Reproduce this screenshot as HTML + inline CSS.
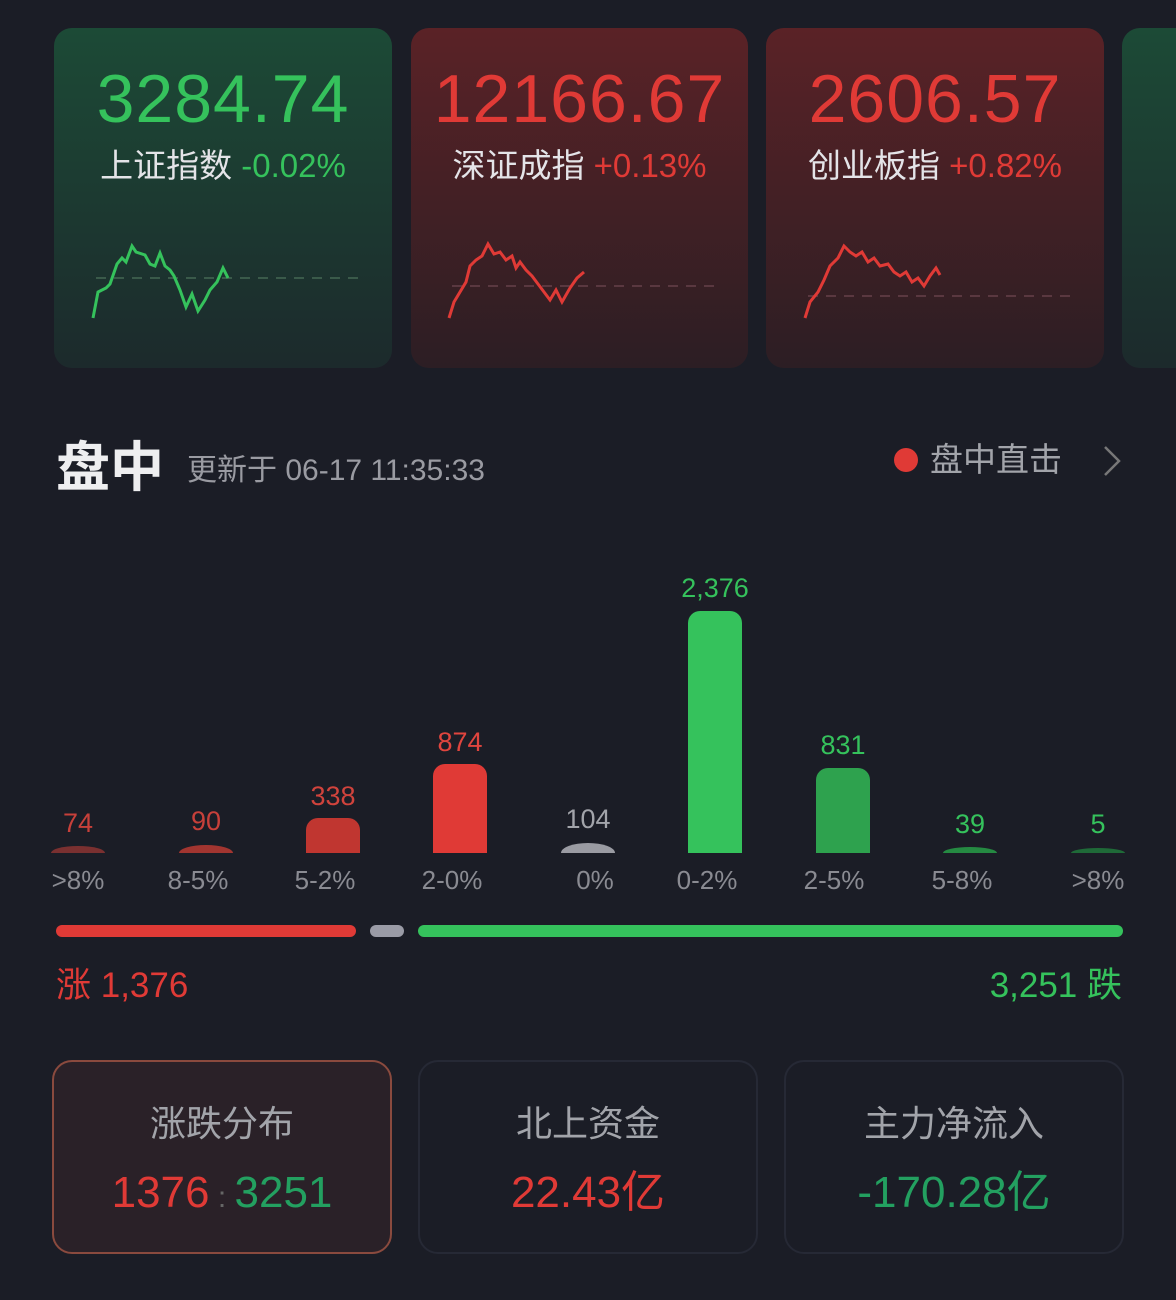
<!DOCTYPE html>
<html><head><meta charset="utf-8"><style>
*{margin:0;padding:0;box-sizing:border-box}
body{width:1176px;height:1300px;background:#1b1d26;position:relative;overflow:hidden;font-family:"Liberation Sans","Noto Sans CJK SC",sans-serif}
.a{position:absolute}
.card{position:absolute;top:28px;height:340px;border-radius:18px}
.g{background:linear-gradient(180deg,#1c4a36 0%,#1c2a2c 100%)}
.r{background:linear-gradient(180deg,#5a2226 0%,#2c1e24 100%)}
.big{position:absolute;left:0;right:0;top:36px;text-align:center;font-size:68px;line-height:70px;letter-spacing:1px}
.nm{position:absolute;left:0;right:0;top:118px;text-align:center;font-size:33px;line-height:40px;color:#e4e4e8}
.val{position:absolute;width:120px;text-align:center;font-size:27px;line-height:30px}
.lab{position:absolute;width:120px;text-align:center;font-size:26px;line-height:30px;color:#8a8b92;top:865px}
.bar{position:absolute;width:54px;border-radius:12px 12px 0 0}
.box{position:absolute;top:1060px;height:194px;border-radius:20px;border:2px solid #262935;text-align:center}
.bt{position:absolute;left:0;right:0;top:40px;font-size:36px;color:#a2a4aa;line-height:44px}
.bv{position:absolute;left:0;right:0;top:106px;font-size:44px;line-height:50px}
</style></head><body>
<div class="card g" style="left:54px;width:338px">
<div class="big" style="color:#35c25c">3284.74</div>
<div class="nm">上证指数 <span style="color:#35c25c">-0.02%</span></div>
</div>
<div class="card r" style="left:411px;width:337px">
<div class="big" style="color:#e03a36">12166.67</div>
<div class="nm">深证成指 <span style="color:#e03a36">+0.13%</span></div>
</div>
<div class="card r" style="left:766px;width:338px">
<div class="big" style="color:#e03a36">2606.57</div>
<div class="nm">创业板指 <span style="color:#e03a36">+0.82%</span></div>
</div>
<div class="card g" style="left:1122px;width:80px"></div>
<svg class="a" style="left:0;top:0" width="1176" height="380">
<line x1="96" y1="278" x2="362" y2="278" stroke="#3a5a4a" stroke-dasharray="10 8" stroke-width="2"/>
<polyline fill="none" stroke="#35c25c" stroke-width="3" points="93,318 98,292 106,288 110,284 117,264 122,258 126,262 132,246 136,252 145,255 150,264 155,266 160,253 165,266 170,270 174,276 180,290 186,307 192,294 198,311 205,300 210,290 217,282 223,268 228,278"/>
<line x1="452" y1="286" x2="718" y2="286" stroke="#5a3840" stroke-dasharray="10 8" stroke-width="2"/>
<polyline fill="none" stroke="#e03a36" stroke-width="3" points="449,318 454,302 460,292 466,282 470,266 476,260 482,256 488,244 494,254 500,252 506,260 512,256 516,268 520,262 526,270 532,276 538,284 544,292 550,300 556,290 562,302 570,288 577,278 584,272"/>
<line x1="808" y1="296" x2="1074" y2="296" stroke="#5a3840" stroke-dasharray="10 8" stroke-width="2"/>
<polyline fill="none" stroke="#e03a36" stroke-width="3" points="805,318 810,302 818,292 824,280 830,266 838,258 844,246 850,252 856,256 862,252 868,262 874,258 880,266 888,264 894,272 900,276 906,272 912,282 918,278 924,286 930,276 936,268 940,275"/>
</svg>
<div class="a" style="left:56px;top:436px;font-size:54px;font-weight:bold;color:#eeeef0;line-height:64px">盘中</div>
<div class="a" style="left:187px;top:452px;font-size:30px;color:#9a9ba2;line-height:38px">更新于 06-17 11:35:33</div>
<div class="a" style="left:894px;top:448px;width:24px;height:24px;border-radius:50%;background:#e03a36"></div>
<div class="a" style="left:930px;top:440px;font-size:33px;color:#a2a4aa;line-height:40px">盘中直击</div>
<svg class="a" style="left:1100px;top:444px" width="24" height="34"><polyline points="5,3 19,17 5,31" fill="none" stroke="#777" stroke-width="2.5"/></svg>

<div class="bar" style="left:51px;top:846px;height:7px;background:#7a3030;border-radius:27px 27px 0 0/7px 7px 0 0"></div>
<div class="bar" style="left:179px;top:845px;height:8px;background:#a23530;border-radius:27px 27px 0 0/8px 8px 0 0"></div>
<div class="bar" style="left:306px;top:818px;height:35px;background:#c03630"></div>
<div class="bar" style="left:433px;top:764px;height:89px;background:#e03a36"></div>
<div class="bar" style="left:561px;top:843px;height:10px;background:#9a9ba2;border-radius:27px 27px 0 0/10px 10px 0 0"></div>
<div class="bar" style="left:688px;top:611px;height:242px;background:#35c25c"></div>
<div class="bar" style="left:816px;top:768px;height:85px;background:#2ea24e"></div>
<div class="bar" style="left:943px;top:847px;height:6px;background:#258a42;border-radius:27px 27px 0 0/6px 6px 0 0"></div>
<div class="bar" style="left:1071px;top:848px;height:5px;background:#1f6a38;border-radius:27px 27px 0 0/5px 5px 0 0"></div>

<div class="val" style="left:18px;top:808px;color:#c7403a">74</div>
<div class="val" style="left:146px;top:806px;color:#c7403a">90</div>
<div class="val" style="left:273px;top:781px;color:#d0433c">338</div>
<div class="val" style="left:400px;top:727px;color:#e0453e">874</div>
<div class="val" style="left:528px;top:804px;color:#a2a4aa">104</div>
<div class="val" style="left:655px;top:573px;color:#35c25c">2,376</div>
<div class="val" style="left:783px;top:730px;color:#35c25c">831</div>
<div class="val" style="left:910px;top:809px;color:#35c25c">39</div>
<div class="val" style="left:1038px;top:809px;color:#35c25c">5</div>

<div class="lab" style="left:18px">&gt;8%</div>
<div class="lab" style="left:138px">8-5%</div>
<div class="lab" style="left:265px">5-2%</div>
<div class="lab" style="left:392px">2-0%</div>
<div class="lab" style="left:535px">0%</div>
<div class="lab" style="left:647px">0-2%</div>
<div class="lab" style="left:774px">2-5%</div>
<div class="lab" style="left:902px">5-8%</div>
<div class="lab" style="left:1038px">&gt;8%</div>

<div class="a" style="left:56px;top:925px;width:300px;height:12px;border-radius:6px;background:#e03a36"></div>
<div class="a" style="left:370px;top:925px;width:34px;height:12px;border-radius:6px;background:#9a9ba6"></div>
<div class="a" style="left:418px;top:925px;width:705px;height:12px;border-radius:6px;background:#35c25c"></div>
<div class="a" style="left:56px;top:964px;font-size:35px;color:#e03a36;line-height:44px">涨 1,376</div>
<div class="a" style="right:54px;top:964px;font-size:35px;color:#35c25c;line-height:44px">3,251 跌</div>

<div class="box" style="left:52px;width:340px;background:#2a2128;border-color:#8a4a3e">
<div class="bt">涨跌分布</div>
<div class="bv"><span style="color:#e03a36">1376</span><span style="color:#666;font-size:30px"> : </span><span style="color:#23a060">3251</span></div>
</div>
<div class="box" style="left:418px;width:340px">
<div class="bt">北上资金</div>
<div class="bv" style="color:#e03a36">22.43亿</div>
</div>
<div class="box" style="left:784px;width:340px">
<div class="bt">主力净流入</div>
<div class="bv" style="color:#23a060">-170.28亿</div>
</div>
</body></html>
